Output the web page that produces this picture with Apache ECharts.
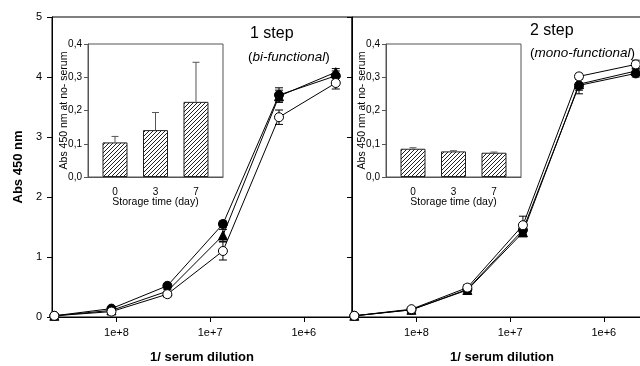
<!DOCTYPE html>
<html><head><meta charset="utf-8">
<script src="https://cdn.jsdelivr.net/npm/echarts@6/dist/echarts.min.js"></script>
<style>html,body{margin:0;padding:0;background:#fff}#c{width:640px;height:366px}</style>
</head><body><div id="c"></div>
<script>
// ---------- data ----------
const dilution = [4.6e8, 1.13e8, 2.86e7, 7.3e6, 1.84e6, 4.56e5];
const xTickLabels = ['1e+6', '1e+7', '1e+8'];

// panel 1: 1 step (bi-functional)
const s1Day0 = [0.02, 0.14, 0.52, 1.55, 3.70, 4.02];
const s1Day0Err = [0, 0.02, 0.03, 0.05, 0.12, 0.08];
const s1Day3 = [0.02, 0.11, 0.43, 1.36, 3.68, 4.08];
const s1Day3Err = [0, 0.02, 0.03, 0.10, 0.10, 0.06];
const s1Day7 = [0.02, 0.09, 0.38, 1.10, 3.33, 3.90];
const s1Day7Err = [0, 0.02, 0.05, 0.15, 0.12, 0.10];

// panel 2: 2 step (mono-functional)
const s2Day0 = [0.02, 0.12, 0.46, 1.45, 3.86, 4.06];
const s2Day0Err = [0, 0.01, 0.03, 0.05, 0.14, 0.06];
const s2Day3 = [0.02, 0.12, 0.45, 1.41, 3.88, 4.10];
const s2Day3Err = [0, 0.01, 0.03, 0.05, 0.10, 0.05];
const s2Day7 = [0.02, 0.13, 0.49, 1.53, 4.01, 4.21];
const s2Day7Err = [0, 0.01, 0.05, 0.15, 0.05, 0.07];

// insets: no-serum background vs storage time
const storageDays = ['0', '3', '7'];
const inset1 = [0.104, 0.141, 0.226];
const inset1Err = [0.018, 0.053, 0.119];
const inset2 = [0.085, 0.077, 0.073];
const inset2Err = [0.003, 0.002, 0.002];

// ---------- helpers ----------
const FONT = 'Liberation Sans, Arial, sans-serif';
function hatch() {
  const c = document.createElement('canvas');
  c.width = 4; c.height = 4;
  const g = c.getContext('2d');
  g.fillStyle = '#fff'; g.fillRect(0, 0, 4, 4);
  g.strokeStyle = '#222'; g.lineWidth = 1;
  g.beginPath();
  g.moveTo(0, 4); g.lineTo(4, 0);
  g.moveTo(-1, 1); g.lineTo(1, -1);
  g.moveTo(3, 5); g.lineTo(5, 3);
  g.stroke();
  return { image: c, repeat: 'repeat' };
}
function pairs(xs, ys) { return xs.map((x, i) => [x, ys[i]]); }
function triples(xs, ys, es) { return xs.map((x, i) => [x, ys[i], es[i]]); }

function errRender(capW, color, upOnly) {
  return function (params, api) {
    const x = api.value(0), y = api.value(1), e = api.value(2);
    if (!e) return null;
    const p0 = api.coord([x, upOnly ? y : y - e]);
    const p1 = api.coord([x, y + e]);
    const h = capW / 2;
    const st = { stroke: color, lineWidth: 1 };
    const ch = [
      { type: 'line', shape: { x1: p0[0], y1: p0[1], x2: p1[0], y2: p1[1] }, style: st },
      { type: 'line', shape: { x1: p1[0] - h, y1: p1[1], x2: p1[0] + h, y2: p1[1] }, style: st }
    ];
    if (!upOnly) ch.push({ type: 'line', shape: { x1: p0[0] - h, y1: p0[1], x2: p0[0] + h, y2: p0[1] }, style: st });
    return { type: 'group', children: ch };
  };
}

function mainX(idx) {
  return {
    type: 'log', gridIndex: idx, inverse: true, min: 3.06e5, max: 4.87e8,
    axisLine: { onZero: false, lineStyle: { color: '#000', width: 1 } },
    axisTick: { length: 5, lineStyle: { color: '#000' } },
    splitLine: { show: false },
    axisLabel: {
      showMinLabel: false, showMaxLabel: false, margin: 10,
      fontFamily: FONT, fontSize: 11, color: '#000',
      formatter: v => xTickLabels[Math.round(Math.log10(v)) - 6] || ''
    },
    name: '1/ serum dilution', nameLocation: 'middle', nameGap: 34, nameMoveOverlap: false,
    nameTextStyle: { fontFamily: FONT, fontSize: 13, fontWeight: 'bold', color: '#000' }
  };
}
function mainY(idx, showLabels) {
  return {
    type: 'value', gridIndex: idx, min: 0, max: 5, interval: 1,
    axisLine: { show: true, onZero: false, lineStyle: { color: '#000', width: 1 } },
    axisTick: { show: true, length: 5, lineStyle: { color: '#000' } },
    splitLine: { show: false },
    axisLabel: { show: showLabels, margin: 10, fontFamily: FONT, fontSize: 11, color: '#000' },
    name: showLabels ? 'Abs 450 nm' : '', nameLocation: 'middle', nameGap: 27, nameRotate: 90,
    nameMoveOverlap: false,
    nameTextStyle: { fontFamily: FONT, fontSize: 13, fontWeight: 'bold', color: '#000' }
  };
}
function insetX(idx) {
  return {
    type: 'value', gridIndex: idx, min: -0.667, max: 2.667,
    axisLine: { onZero: false, lineStyle: { color: '#555' } },
    axisTick: { show: false },
    splitLine: { show: false },
    axisLabel: {
      customValues: [0, 1, 2], margin: 10,
      fontFamily: FONT, fontSize: 10, color: '#000',
      formatter: v => storageDays[Math.round(v)] || ''
    },
    name: 'Storage time (day)', nameLocation: 'middle', nameGap: 20, nameMoveOverlap: false,
    nameTextStyle: { fontFamily: FONT, fontSize: 10.5, color: '#000' }
  };
}
function insetY(idx) {
  return {
    type: 'value', gridIndex: idx, min: 0, max: 0.4, interval: 0.1,
    axisLine: { show: true, onZero: false, lineStyle: { color: '#555' } },
    axisTick: { show: true, length: 4, lineStyle: { color: '#555' } },
    splitLine: { show: false },
    axisLabel: { margin: 6, fontFamily: FONT, fontSize: 10, color: '#000',
      formatter: v => v.toFixed(1).replace('.', ',') },
    name: 'Abs 450 nm at no- serum', nameLocation: 'middle', nameGap: 18, nameRotate: 90,
    nameMoveOverlap: false,
    nameTextStyle: { fontFamily: FONT, fontSize: 10.5, color: '#000' }
  };
}

function lineSeries(idx, ys, symbol, fill, z) {
  return {
    type: 'line', xAxisIndex: idx, yAxisIndex: idx, data: pairs(dilution, ys),
    symbol: symbol, symbolSize: 9, showSymbol: true,
    lineStyle: { color: '#000', width: 1 },
    itemStyle: { color: fill, borderColor: '#000', borderWidth: 1 },
    z: z, silent: true
  };
}
function errSeries(idx, ys, es) {
  return {
    type: 'custom', xAxisIndex: idx, yAxisIndex: idx,
    data: triples(dilution, ys, es), encode: { x: 0, y: 1 },
    renderItem: errRender(8, '#000', false), z: 1, silent: true
  };
}
function barSeries(idx, vals) {
  return {
    type: 'bar', xAxisIndex: idx, yAxisIndex: idx,
    data: vals.map((v, i) => [i, v]), barWidth: 25,
    itemStyle: { color: hatch(), borderColor: '#222', borderWidth: 1 },
    z: 2, silent: true
  };
}
function barErr(idx, vals, errs) {
  return {
    type: 'custom', xAxisIndex: idx, yAxisIndex: idx,
    data: vals.map((v, i) => [i, v, errs[i]]), encode: { x: 0, y: 1 },
    renderItem: errRender(7, '#555', true), z: 3, silent: true
  };
}

const gridBase = { outerBoundsMode: 'none', containLabel: false };
const chart = echarts.init(document.getElementById('c'), null, { renderer: 'canvas' });
chart.setOption({
  animation: false,
  backgroundColor: '#fff',
  title: [
    { text: '1 step', left: 250, top: 26, padding: 0, textStyle: { fontFamily: FONT, fontSize: 16, fontWeight: 'normal', color: '#000' } },
    { text: '({i|bi-functional})', left: 248, top: 50, padding: 0,
      textStyle: { fontFamily: FONT, fontSize: 13.5, fontWeight: 'normal', color: '#000',
        rich: { i: { fontFamily: FONT, fontSize: 13.5, fontStyle: 'italic', color: '#000' } } } },
    { text: '2 step', left: 530, top: 23, padding: 0, textStyle: { fontFamily: FONT, fontSize: 16, fontWeight: 'normal', color: '#000' } },
    { text: '({i|mono-functional})', left: 530, top: 46, padding: 0,
      textStyle: { fontFamily: FONT, fontSize: 13.5, fontWeight: 'normal', color: '#000',
        rich: { i: { fontFamily: FONT, fontSize: 13.5, fontStyle: 'italic', color: '#000' } } } }
  ],
  grid: [
    Object.assign({ left: 52, top: 17, width: 300, height: 300, show: true, borderColor: '#000', borderWidth: 1, backgroundColor: 'transparent' }, gridBase),
    Object.assign({ left: 352, top: 17, width: 300, height: 300, show: true, borderColor: '#000', borderWidth: 1, backgroundColor: 'transparent' }, gridBase),
    Object.assign({ left: 88, top: 44, width: 135, height: 133, show: true, borderColor: '#555', borderWidth: 1, backgroundColor: '#fff' }, gridBase),
    Object.assign({ left: 386, top: 44, width: 135, height: 133, show: true, borderColor: '#555', borderWidth: 1, backgroundColor: '#fff' }, gridBase)
  ],
  xAxis: [mainX(0), mainX(1), insetX(2), insetX(3)],
  yAxis: [mainY(0, true), mainY(1, false), insetY(2), insetY(3)],
  series: [
    errSeries(0, s1Day0, s1Day0Err), errSeries(0, s1Day3, s1Day3Err), errSeries(0, s1Day7, s1Day7Err),
    lineSeries(0, s1Day0, 'circle', '#000', 4),
    lineSeries(0, s1Day3, 'triangle', '#000', 5),
    lineSeries(0, s1Day7, 'circle', '#fff', 6),
    errSeries(1, s2Day0, s2Day0Err), errSeries(1, s2Day3, s2Day3Err), errSeries(1, s2Day7, s2Day7Err),
    lineSeries(1, s2Day0, 'circle', '#000', 4),
    lineSeries(1, s2Day3, 'triangle', '#000', 5),
    lineSeries(1, s2Day7, 'circle', '#fff', 6),
    barSeries(2, inset1), barErr(2, inset1, inset1Err),
    barSeries(3, inset2), barErr(3, inset2, inset2Err)
  ]
});
</script>
</body></html>
